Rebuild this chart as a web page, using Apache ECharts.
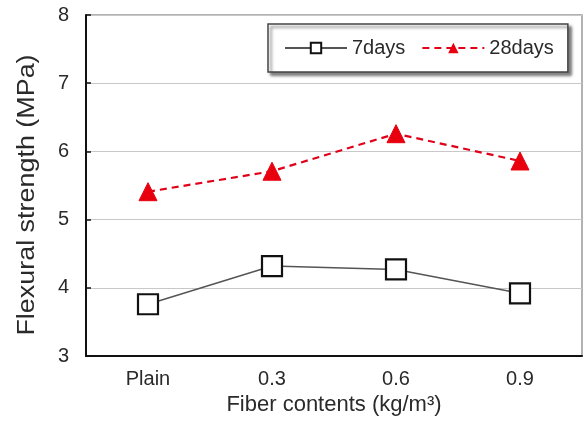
<!DOCTYPE html>
<html>
<head>
<meta charset="utf-8">
<script src="https://cdn.jsdelivr.net/npm/echarts@6/dist/echarts.min.js"></script>
<style>
  html, body { margin: 0; padding: 0; background: #fff; }
  #chart { width: 586px; height: 421px; }
</style>
</head>
<body>
<div id="chart"></div>
<script>
// Flexural strength by fiber content, 7-day and 28-day curing
const categories = ['Plain', '0.3', '0.6', '0.9'];
const days7 = [3.76, 4.32, 4.27, 3.92];
const days28 = [5.41, 5.71, 6.26, 5.86];
const yTicks = { min: 3, max: 8, interval: 1 };
const yTitle = 'Flexural strength (MPa)';
const xTitle = 'Fiber contents (kg/m³)';

const font = '"Liberation Sans", Arial, sans-serif';
const textColor = '#2a2a2a';
const chart = echarts.init(document.getElementById('chart'));

chart.setOption({
  animation: false,
  backgroundColor: '#fff',
  grid: {
    left: 86, right: 4, top: 15, bottom: 63,
    show: true, borderColor: '#999', borderWidth: 1.5
  },
  legend: {
    top: 24, left: 268,
    padding: [14, 14, 14, 16],
    itemGap: 16,
    itemWidth: 62, itemHeight: 13,
    backgroundColor: '#fff',
    borderColor: '#444', borderWidth: 1.5,
    shadowColor: 'rgba(0,0,0,0.5)', shadowBlur: 3, shadowOffsetX: 3, shadowOffsetY: 3,
    textStyle: { fontFamily: font, fontSize: 20, color: textColor },
    data: ['7days', '28days']
  },
  graphic: [
    {
      // vertical axis title, stretched along its reading direction
      type: 'text',
      x: 28, y: 195,
      rotation: Math.PI / 2,
      scaleX: 1.17,
      style: {
        text: yTitle,
        fontFamily: font, fontSize: 23, fill: textColor,
        align: 'center', verticalAlign: 'middle'
      }
    }
  ],
  xAxis: {
    type: 'category',
    data: categories,
    boundaryGap: true,
    name: xTitle,
    nameLocation: 'middle',
    nameGap: 36,
    nameTextStyle: { fontFamily: font, fontSize: 22, color: textColor },
    axisLine: { lineStyle: { color: '#111', width: 2 } },
    axisTick: { inside: true, alignWithLabel: true, length: 5, lineStyle: { color: '#111', width: 1.5 } },
    axisLabel: { fontFamily: font, fontSize: 20, color: textColor, margin: 13 },
    splitLine: { show: false }
  },
  yAxis: {
    type: 'value',
    min: yTicks.min, max: yTicks.max, interval: yTicks.interval,
    axisLine: { show: true, lineStyle: { color: '#111', width: 2 } },
    axisTick: { show: true, inside: true, length: 5, lineStyle: { color: '#111', width: 1.5 } },
    axisLabel: { fontFamily: font, fontSize: 20, color: textColor, margin: 17 },
    splitLine: { show: true, lineStyle: { color: '#c8c8c8', width: 1.2 } }
  },
  series: [
    {
      name: '7days',
      type: 'line',
      data: days7,
      symbol: 'rect',
      symbolSize: 20,
      lineStyle: { color: '#555', width: 1.5 },
      itemStyle: { color: '#fff', borderColor: '#111', borderWidth: 2.2 },
      z: 3
    },
    {
      name: '28days',
      type: 'line',
      data: days28,
      symbol: 'triangle',
      symbolSize: 18,
      lineStyle: { color: '#e0001a', width: 2.2, type: [7, 5] },
      itemStyle: { color: '#e8000f', borderColor: '#e8000f' },
      z: 3
    }
  ]
});
</script>
</body>
</html>
